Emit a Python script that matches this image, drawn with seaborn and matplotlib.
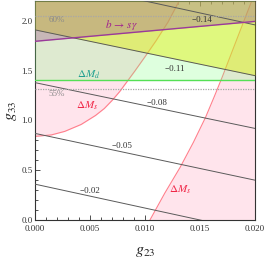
import numpy as np
import pandas as pd
import matplotlib
matplotlib.use("Agg")
import matplotlib.pyplot as plt
import seaborn as sns

# ---------------- data ----------------
# contour lines (straight): value of g33 at g23 = 0 and at g23 = 0.02
contour_levels = [-0.02, -0.05, -0.08, -0.11, -0.14]
contour_g23_ends = [0.0, 0.02]
contour_g33_left = [0.36, 0.87, 1.38, 1.91, 2.44]
contour_g33_right = [-0.12, 0.40, 0.92, 1.45, 1.96]
# contour label positions (g23, g33)
label_g23 = [0.0050, 0.0079, 0.0111, 0.0127, 0.01515]
label_g33 = [0.29, 0.74, 1.18, 1.52, 2.01]

# Delta M_s boundary curves
dms_left_g23 = [0.0, 0.0015, 0.0027, 0.0042, 0.0055, 0.0063, 0.0070, 0.0077,
                0.0083, 0.0091, 0.0100, 0.0110, 0.0121, 0.0131]
dms_left_g33 = [0.84, 0.855, 0.89, 0.96, 1.05, 1.12, 1.20, 1.29,
                1.38, 1.50, 1.64, 1.80, 1.99, 2.20]
dms_right_g23 = [0.01045, 0.0118, 0.0132, 0.0144, 0.0155, 0.0163, 0.0170,
                 0.0177, 0.0184, 0.0191, 0.0197]
dms_right_g33 = [0.00, 0.27, 0.53, 0.78, 1.03, 1.24, 1.43,
                 1.63, 1.83, 2.03, 2.20]

# Delta M_d bound (horizontal)
dmd_g33 = 1.41
# b -> s gamma boundary (straight line)
bsg_g23 = [0.0, 0.02]
bsg_g33 = [1.795, 1.995]
# yellow region boundary is the -0.11 contour
yel_g23 = [0.0, 0.02]
yel_g33 = [1.91, 1.45]
# dotted percentage lines
pct_g33 = [2.053, 1.313]
pct_labels = ["60%", "55%"]
pct_text_g33 = [2.01, 1.265]

xmin, xmax = 0.0, 0.02
ymin, ymax = 0.0, 2.2

# ---------------- styling ----------------
sns.set_theme(style="white")
plt.rcParams["font.family"] = ["Liberation Serif", "DejaVu Serif"]
plt.rcParams["mathtext.fontset"] = "stix"

fig = plt.figure(figsize=(2.66, 2.58), dpi=100)
ax = fig.add_axes([35 / 266, 1 - 220 / 258, 220 / 266, 219 / 258])

# pink Delta M_s excluded regions
ax.fill_betweenx(dms_left_g33, 0.0, dms_left_g23, color="#ffe4ec", lw=0, zorder=1)
ax.fill_betweenx(dms_right_g33, dms_right_g23, xmax, color="#ffe4ec", lw=0, zorder=1)
ax.plot(dms_left_g23, dms_left_g33, color="#ff7f8c", lw=0.8, zorder=2)
ax.plot(dms_right_g23, dms_right_g33, color="#ff7f8c", lw=0.8, zorder=2)

# green Delta M_d region
ax.axhspan(dmd_g33, ymax, color=(127 / 255, 1.0, 127 / 255), alpha=0.25, lw=0, zorder=3)
ax.axhline(dmd_g33, color="#55e055", lw=1.0, zorder=7)

# yellow region
ax.fill_between(yel_g23, yel_g33, ymax, color=(226 / 255, 239 / 255, 0.0), alpha=0.43, lw=0, zorder=4)

# b -> s gamma region
ax.fill_between(bsg_g23, bsg_g33, ymax, color=(163 / 255, 103 / 255, 144 / 255), alpha=0.385, lw=0, zorder=5)
ax.plot(bsg_g23, bsg_g33, color="#9a3a9a", lw=1.0, zorder=8)

# contour lines via seaborn
rows = []
for lev, yl, yr in zip(contour_levels, contour_g33_left, contour_g33_right):
    rows.append({"level": lev, "g23": contour_g23_ends[0], "g33": yl})
    rows.append({"level": lev, "g23": contour_g23_ends[1], "g33": yr})
cdf = pd.DataFrame(rows)
sns.lineplot(data=cdf, x="g23", y="g33", units="level", estimator=None,
             color="#5a5a5a", lw=0.7, legend=False, ax=ax, zorder=6, sort=False)

for lev, lx, ly in zip(contour_levels, label_g23, label_g33):
    ax.text(lx, ly, f"\u2212{abs(lev):.2f}", fontsize=6.5, ha="center", va="center",
            color="#333333", zorder=9)

# dotted percentage lines
for yv, lab, ty in zip(pct_g33, pct_labels, pct_text_g33):
    ax.axhline(yv, color="#a8a8a8", lw=0.9, ls=(0, (1, 1)), zorder=7)
    ax.text(0.002, ty, lab, fontsize=6.5, color="#888888", ha="center", va="center", zorder=9)

# region labels
ax.text(0.0079, 1.96, r"$b\,\rightarrow\,s\gamma$", color="#a0208f", fontsize=8,
        ha="center", va="center", zorder=9)
ax.text(0.00485, 1.46, r"$\Delta M_d$", color="#20a090", fontsize=8,
        ha="center", va="center", zorder=9)
ax.text(0.0047, 1.15, r"$\Delta M_s$", color="#f02848", fontsize=8,
        ha="center", va="center", zorder=9)
ax.text(0.01318, 0.307, r"$\Delta M_s$", color="#f02848", fontsize=8,
        ha="center", va="center", zorder=9)

ax.set_xlim(xmin, xmax)
ax.set_ylim(ymin, ymax)
ax.set_xticks([0.0, 0.005, 0.01, 0.015, 0.02])
ax.set_xticklabels(["0.000", "0.005", "0.010", "0.015", "0.020"])
ax.set_yticks([0.0, 0.5, 1.0, 1.5, 2.0])
ax.set_yticklabels(["0.0", "0.5", "1.0", "1.5", "2.0"])
ax.set_xticks(np.arange(0, 0.0201, 0.001), minor=True)
ax.set_yticks(np.arange(0, 2.21, 0.1), minor=True)
ax.tick_params(which="both", direction="in", top=True, right=True, bottom=True, left=True,
               colors="#333333", labelcolor="#333333", width=0.6)
ax.tick_params(which="major", length=3.5, labelsize=6.5)
ax.tick_params(axis="x", which="major", pad=3.8)
ax.tick_params(axis="y", which="major", pad=1.5)
ax.tick_params(which="minor", length=2)
for s in ax.spines.values():
    s.set_color("#333333")
    s.set_linewidth(0.8)

ax.set_xlabel(r"$g_{23}$", fontsize=11.5, labelpad=7, color="#222222")
ax.set_ylabel(r"$g_{33}$", fontsize=11.5, labelpad=2, color="#222222")

fig.savefig("out.png", dpi=100)
